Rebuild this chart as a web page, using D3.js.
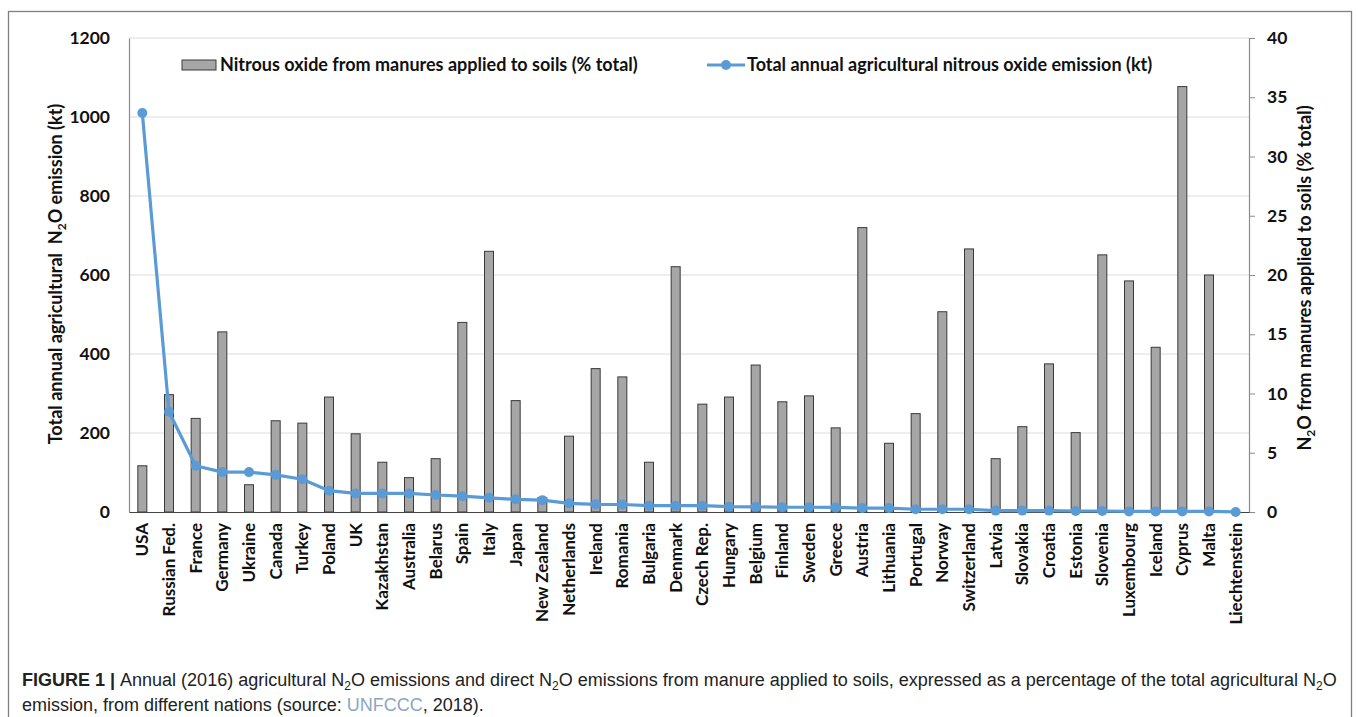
<!DOCTYPE html>
<html>
<head>
<meta charset="utf-8">
<script src="https://cdn.jsdelivr.net/npm/d3@7"></script>
<style>
  body { margin: 0; background: #fff; }
  svg text { font-family: Lato, "Open Sans", sans-serif; }
</style>
</head>
<body>
<div id="canvas"></div>
<script>
'use strict';

const countries = ['USA', 'Russian Fed.', 'France', 'Germany', 'Ukraine', 'Canada',
  'Turkey', 'Poland', 'UK', 'Kazakhstan', 'Australia', 'Belarus', 'Spain', 'Italy',
  'Japan', 'New Zealand', 'Netherlands', 'Ireland', 'Romania', 'Bulgaria', 'Denmark',
  'Czech Rep.', 'Hungary', 'Belgium', 'Finland', 'Sweden', 'Greece', 'Austria',
  'Lithuania', 'Portugal', 'Norway', 'Switzerland', 'Latvia', 'Slovakia', 'Croatia',
  'Estonia', 'Slovenia', 'Luxembourg', 'Iceland', 'Cyprus', 'Malta', 'Liechtenstein'];

/* % of total agricultural N2O from manures applied to soils (right axis) */
const manurePct = [3.9, 9.9, 7.9, 15.2, 2.3, 7.7, 7.5, 9.7, 6.6, 4.2, 2.9, 4.5, 16.0,
  22.0, 9.4, 1.2, 6.4, 12.1, 11.4, 4.2, 20.7, 9.1, 9.7, 12.4, 9.3, 9.8, 7.1, 24.0,
  5.8, 8.3, 16.9, 22.2, 4.5, 7.2, 12.5, 6.7, 21.7, 19.5, 13.9, 35.9, 20.0, 0];

/* total annual agricultural N2O emission, kt (left axis) */
const totalKt = [1010, 254, 117, 101, 101, 94, 83, 54, 47, 47, 47, 43, 40, 36, 32, 30,
  22, 19.5, 19, 16, 16, 16, 13.5, 13, 12, 12, 11.5, 10, 10, 7, 7, 7, 3.5, 3.5, 3.5,
  2.5, 2.5, 1.5, 1.5, 1.5, 1.5, 0.2];

const leftTicks = [0, 200, 400, 600, 800, 1000, 1200];
const rightTicks = [0, 5, 10, 15, 20, 25, 30, 35, 40];

const W = 1358, H = 717;
const plot = { left: 129, right: 1249, top: 38, bottom: 512 };

const svg = d3.select('#canvas').append('svg')
    .attr('width', W)
    .attr('height', H);

// outer frame
svg.append('rect')
    .attr('x', 8.5).attr('y', 11.5)
    .attr('width', 1343).attr('height', 720)
    .attr('fill', 'none').attr('stroke', '#808080').attr('stroke-width', 1.3);

const x = d3.scaleBand()
    .domain(countries)
    .range([plot.left, plot.right])
    .padding(0);
const yLeft = d3.scaleLinear().domain([0, 1200]).range([plot.bottom, plot.top]);
const yRight = d3.scaleLinear().domain([0, 40]).range([plot.bottom, plot.top]);

// gridlines
svg.append('g')
    .selectAll('line')
    .data(leftTicks.slice(1))
    .join('line')
    .attr('x1', plot.left).attr('x2', plot.right)
    .attr('y1', d => yLeft(d)).attr('y2', d => yLeft(d))
    .attr('stroke', '#dcdcdc').attr('stroke-width', 1);

// left axis
const gLeft = svg.append('g')
    .attr('transform', `translate(${plot.left},0)`)
    .call(d3.axisLeft(yLeft).tickValues(leftTicks).tickFormat(d3.format('d'))
        .tickSize(0).tickPadding(19));
gLeft.select('.domain').attr('stroke', '#8c8c8c').attr('stroke-width', 1.2);
gLeft.selectAll('text')
    .attr('font-size', 17.5).attr('font-weight', 'bold').attr('fill', '#111')
    .style('font-family', 'Lato, sans-serif');

// right axis
const gRight = svg.append('g')
    .attr('transform', `translate(${plot.right},0)`)
    .call(d3.axisRight(yRight).tickValues(rightTicks).tickSize(6).tickPadding(12));
gRight.select('.domain').attr('stroke', '#8c8c8c').attr('stroke-width', 1.2);
gRight.selectAll('.tick line').attr('stroke', '#8c8c8c');
gRight.selectAll('text')
    .attr('font-size', 17.5).attr('font-weight', 'bold').attr('fill', '#111')
    .style('font-family', 'Lato, sans-serif');

// bars (right axis)
const barW = 9;
svg.append('g')
    .selectAll('rect')
    .data(countries)
    .join('rect')
    .attr('x', d => x(d) + x.bandwidth() / 2 - barW / 2)
    .attr('width', barW)
    .attr('y', (d, i) => yRight(manurePct[i]))
    .attr('height', (d, i) => plot.bottom - yRight(manurePct[i]))
    .attr('fill', '#a6a6a6')
    .attr('stroke', '#3a3a3a')
    .attr('stroke-width', 1);

// bottom axis
const gBottom = svg.append('g')
    .attr('transform', `translate(0,${plot.bottom})`)
    .call(d3.axisBottom(x).tickSize(0).tickPadding(0));
gBottom.select('.domain').attr('stroke', '#444').attr('stroke-width', 1.2);
gBottom.selectAll('text')
    .attr('font-size', 17).attr('font-weight', 'bold').attr('fill', '#111')
    .attr('text-anchor', 'end')
    .attr('dy', '0.35em')
    .attr('transform', 'translate(0,11) rotate(-90)')
    .attr('x', 0).attr('y', 0)
    .style('font-family', 'Lato, sans-serif');

// line (left axis)
const cx = d => x(d) + x.bandwidth() / 2;
const line = d3.line()
    .x((d, i) => cx(countries[i]))
    .y(d => yLeft(d));
svg.append('path')
    .datum(totalKt)
    .attr('d', line)
    .attr('fill', 'none')
    .attr('stroke', '#5b9bd5')
    .attr('stroke-width', 3.2)
    .attr('stroke-linejoin', 'round');
svg.append('g')
    .selectAll('circle')
    .data(totalKt)
    .join('circle')
    .attr('cx', (d, i) => cx(countries[i]))
    .attr('cy', d => yLeft(d))
    .attr('r', 5)
    .attr('fill', '#5b9bd5');

// axis titles
const leftTitle = svg.append('text')
    .attr('transform', 'translate(62,274) rotate(-90)')
    .attr('text-anchor', 'middle')
    .attr('font-size', 18).attr('font-weight', 'bold').attr('fill', '#111');
leftTitle.append('tspan').text('Total annual agricultural\u00a0\u00a0N');
leftTitle.append('tspan').text('2').attr('font-size', 12).attr('dy', 4);
leftTitle.append('tspan').text('O emission (kt)').attr('dy', -4);

const rightTitle = svg.append('text')
    .attr('transform', 'translate(1311,278) rotate(-90)')
    .attr('text-anchor', 'middle')
    .attr('font-size', 18).attr('font-weight', 'bold').attr('fill', '#111');
rightTitle.append('tspan').text('N');
rightTitle.append('tspan').text('2').attr('font-size', 12).attr('dy', 4);
rightTitle.append('tspan').text('O from manures applied to soils (% total)').attr('dy', -4);

// legend
const legend = svg.append('g');
legend.append('rect')
    .attr('x', 182).attr('y', 60).attr('width', 34).attr('height', 10)
    .attr('fill', '#a6a6a6').attr('stroke', '#3a3a3a');
legend.append('text')
    .attr('x', 220).attr('y', 71)
    .attr('font-size', 18).attr('font-weight', 'bold').attr('fill', '#111')
    .text('Nitrous oxide from manures applied to soils (% total)');
legend.append('line')
    .attr('x1', 707).attr('x2', 745).attr('y1', 65).attr('y2', 65)
    .attr('stroke', '#5b9bd5').attr('stroke-width', 3.2);
legend.append('circle')
    .attr('cx', 726).attr('cy', 65).attr('r', 5).attr('fill', '#5b9bd5');
legend.append('text')
    .attr('x', 747).attr('y', 71)
    .attr('font-size', 18).attr('font-weight', 'bold').attr('fill', '#111')
    .text('Total annual agricultural nitrous oxide emission (kt)');

// caption
const cap = svg.append('g');
const c1 = cap.append('text')
    .attr('x', 22).attr('y', 686)
    .attr('font-size', 18).attr('fill', '#222')
    .style('font-family', '"Liberation Sans", Arial, sans-serif');
c1.append('tspan').text('FIGURE 1 | ').attr('font-weight', 'bold');
c1.append('tspan').text('Annual (2016) agricultural N');
c1.append('tspan').text('2').attr('font-size', 12).attr('dy', 4);
c1.append('tspan').text('O emissions and direct N').attr('dy', -4);
c1.append('tspan').text('2').attr('font-size', 12).attr('dy', 4);
c1.append('tspan').text('O emissions from manure applied to soils, expressed as a percentage of the total agricultural N').attr('dy', -4);
c1.append('tspan').text('2').attr('font-size', 12).attr('dy', 4);
c1.append('tspan').text('O').attr('dy', -4);

const c2 = cap.append('text')
    .attr('x', 22).attr('y', 711)
    .attr('font-size', 18).attr('fill', '#222')
    .style('font-family', '"Liberation Sans", Arial, sans-serif');
c2.append('tspan').text('emission, from different nations (source: ');
c2.append('tspan').text('UNFCCC').attr('fill', '#8aa6c4');
c2.append('tspan').text(', 2018).');
</script>
</body>
</html>
